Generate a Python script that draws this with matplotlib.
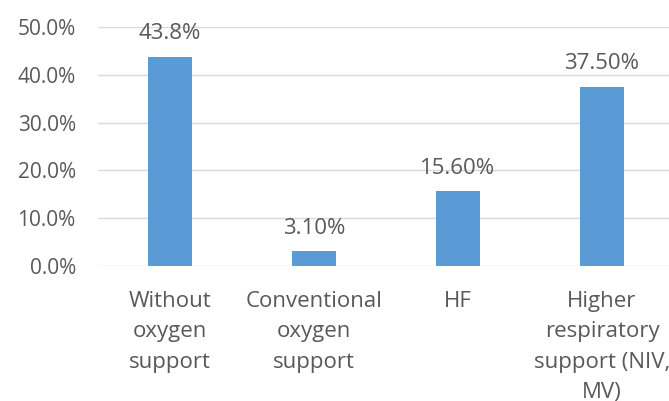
import matplotlib.pyplot as plt
from matplotlib.ticker import PercentFormatter

categories = ["Without\noxygen\nsupport", "Conventional\noxygen\nsupport", "HF",
              "Higher\nrespiratory\nsupport (NIV,\nMV)"]
values = [43.8, 3.1, 15.6, 37.5]
value_labels = ["43.8%", "3.10%", "15.60%", "37.50%"]

plt.rcParams['font.family'] = ['Open Sans', 'DejaVu Sans']
text_color = '#595959'

fig = plt.figure(figsize=(6.69, 4.01), dpi=100)
ax = fig.add_axes([98 / 669, 135 / 401, 576 / 669, 239 / 401])

x = range(len(categories))
bars = ax.bar(x, values, width=0.31, color='#5B9BD5', zorder=3)

for b, lab in zip(bars, value_labels):
    ax.annotate(lab, (b.get_x() + b.get_width() / 2, b.get_height()),
                xytext=(0, 23), textcoords='offset pixels', ha='center', va='center',
                fontsize=16, color=text_color)

ax.set_xlim(-0.5, 3.5)
ax.set_ylim(0, 50)
ax.set_yticks(range(0, 51, 10))
ax.yaxis.set_major_formatter(PercentFormatter(decimals=1))
ax.set_xticks(list(x))
ax.set_xticklabels(categories, linespacing=1.58, fontsize=16)
ax.tick_params(axis='both', length=0, labelcolor=text_color)
ax.tick_params(axis='y', labelsize=15, pad=16)
ax.tick_params(axis='x', pad=18)
ax.grid(axis='y', color='#D9D9D9', lw=1, zorder=0)
for s in ax.spines.values():
    s.set_visible(False)

fig.savefig('out.png', dpi=100)
